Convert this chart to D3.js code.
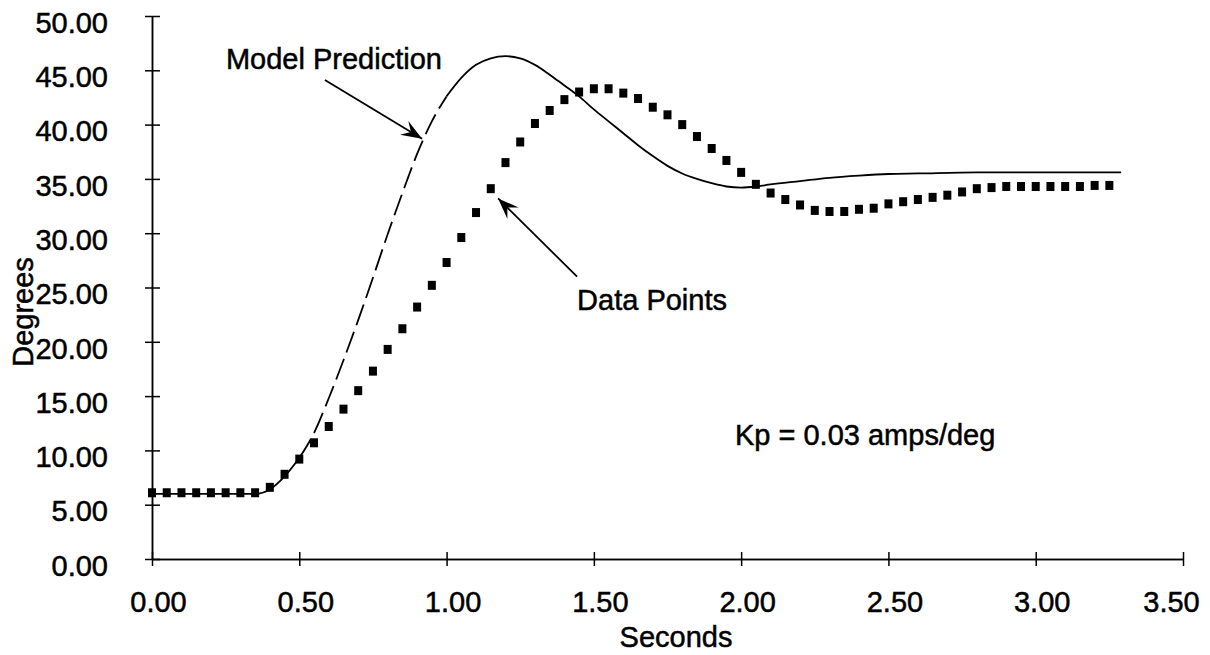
<head>
	<meta charset="utf-8">
	<title>Degrees vs Seconds</title>
	<script src="https://d3js.org/d3.v7.min.js"></script>
	<style>
		body { margin: 0; background: #fff; }
		text { font-family: "Liberation Sans", Arial, sans-serif; fill: #000; stroke: #000; stroke-width: 0.5px; }
	</style>
</head>
<body>
	<script type="text/javascript">
	// model prediction curve (seconds, degrees)
	var modelTime = [0, 0.05, 0.10, 0.15, 0.20, 0.25, 0.30, 0.35, 0.40, 0.45, 0.50, 0.55, 0.60, 0.65, 0.70, 0.75, 0.80, 0.85, 0.90, 0.95,
		1.00, 1.05, 1.10, 1.15, 1.20, 1.25, 1.30, 1.35, 1.40, 1.45, 1.50, 1.55, 1.60, 1.65, 1.70, 1.75, 1.80, 1.85, 1.90, 1.95,
		2.00, 2.05, 2.10, 2.20, 2.30, 2.40, 2.50, 2.60, 2.80, 3.00, 3.29];
	var modelDeg = [6.0, 6.0, 6.0, 6.0, 6.0, 6.0, 6.0, 6.0, 6.4, 7.6, 9.3, 11.6, 14.8, 18.3, 22.0, 25.9, 29.9, 33.7, 37.3, 40.3,
		42.6, 44.3, 45.5, 46.1, 46.3, 46.1, 45.5, 44.6, 43.6, 42.6, 41.4, 40.3, 39.2, 38.1, 37.1, 36.2, 35.5, 35.0, 34.6, 34.3,
		34.2, 34.3, 34.5, 34.8, 35.1, 35.3, 35.45, 35.5, 35.6, 35.6, 35.6];

	// measured data points, one every 0.05 s from 0
	var dataStep = 0.05;
	var dataDeg = [6.1, 6.1, 6.1, 6.1, 6.1, 6.1, 6.1, 6.1, 6.6, 7.8, 9.2, 10.7, 12.2, 13.8, 15.5, 17.3, 19.3, 21.2, 23.2, 25.2,
		27.3, 29.6, 31.9, 34.1, 36.5, 38.4, 40.1, 41.3, 42.3, 43.0, 43.3, 43.3, 42.9, 42.4, 41.6, 40.9, 40.0, 38.9, 37.8, 36.7,
		35.6, 34.5, 33.7, 33.1, 32.6, 32.1, 32.0, 32.0, 32.2, 32.3, 32.7, 32.9, 33.1, 33.3, 33.5, 33.8, 34.1, 34.2, 34.3, 34.3,
		34.3, 34.3, 34.3, 34.3, 34.4, 34.4];

	var xTicks = [0, 0.5, 1.0, 1.5, 2.0, 2.5, 3.0, 3.5];
	var yTicks = [0, 5, 10, 15, 20, 25, 30, 35, 40, 45, 50];

	// annotations in data units: [label t, label deg, arrow from t, from deg, arrow to t, to deg]
	var modelNote = ["Model Prediction", 0.251, 45.1, 0.587, 44.1, 0.917, 38.7];
	var dataNote = ["Data Points", 1.443, 22.9, 1.443, 26.0, 1.175, 33.2];
	var kpNote = ["Kp = 0.03 amps/deg", 1.979, 10.5];

	var w = 1210;
	var h = 655;

	var svg = d3.select("body")
		.append("svg")
		.attr("width", w)
		.attr("height", h);

	var x = d3.scaleLinear().domain([0, 3.5]).range([152, 1183]);
	var y = d3.scaleLinear().domain([0, 50]).range([559, 16]);

	// axes (ticks cross the axis line)
	var xAxis = svg.append("g")
		.attr("transform", "translate(0," + y(0) + ")")
		.call(d3.axisBottom(x).tickValues(xTicks).tickSizeInner(7).tickSizeOuter(0).tickPadding(25)
			.tickFormat(d3.format(".2f")));
	svg.append("g")
		.attr("transform", "translate(0," + y(0) + ")")
		.call(d3.axisTop(x).tickValues(xTicks).tickSizeInner(7).tickSizeOuter(0).tickFormat(""));

	var yAxis = svg.append("g")
		.attr("transform", "translate(" + x(0) + ",0)")
		.call(d3.axisLeft(y).tickValues(yTicks).tickSizeInner(7).tickSizeOuter(0).tickPadding(37)
			.tickFormat(d3.format(".2f")));
	svg.append("g")
		.attr("transform", "translate(" + x(0) + ",0)")
		.call(d3.axisRight(y).tickValues(yTicks).tickSizeInner(8).tickSizeOuter(0).tickFormat(""));

	svg.selectAll(".domain, .tick line")
		.attr("stroke", "#000")
		.attr("stroke-width", 1.5);
	svg.selectAll(".tick text")
		.attr("font-size", "29px")
		.attr("font-family", "Liberation Sans, Arial, sans-serif")
		.attr("fill", "#000");
	xAxis.selectAll(".tick text").attr("dx", function(d){ return d === 3.5 ? -12 : 6; });
	yAxis.selectAll(".tick text").attr("dy", "0.56em");

	svg.append("text")
		.text("Seconds")
		.attr("x", 676)
		.attr("y", 647)
		.attr("text-anchor", "middle")
		.attr("font-size", "29px");
	svg.append("text")
		.text("Degrees")
		.attr("transform", "translate(33,312) rotate(-90)")
		.attr("text-anchor", "middle")
		.attr("font-size", "29px");

	// model line: solid, dashed on the steep rise, then solid
	var model = modelTime.map(function(t, i){ return [t, modelDeg[i]]; });
	var line = d3.line()
		.x(function(d){ return x(d[0]); })
		.y(function(d){ return y(d[1]); })
		.curve(d3.curveMonotoneX);

	var parts = [
		{pts: model.filter(function(d){ return d[0] <= 0.50; }), dash: null},
		{pts: model.filter(function(d){ return d[0] >= 0.50 && d[0] <= 1.00; }), dash: "22,7"},
		{pts: model.filter(function(d){ return d[0] >= 1.00; }), dash: null}
	];
	svg.selectAll("path.model")
		.data(parts)
		.enter()
		.append("path")
		.attr("class", "model")
		.attr("d", function(d){ return line(d.pts); })
		.attr("fill", "none")
		.attr("stroke", "#000")
		.attr("stroke-width", 1.8)
		.attr("stroke-dasharray", function(d){ return d.dash; });

	// data squares
	svg.selectAll("rect.pt")
		.data(dataDeg)
		.enter()
		.append("rect")
		.attr("class", "pt")
		.attr("x", function(d, i){ return x(i * dataStep) - 4; })
		.attr("y", function(d){ return y(d) - 4.5; })
		.attr("width", 8)
		.attr("height", 9)
		.attr("fill", "#000");

	// arrows
	svg.append("defs").append("marker")
		.attr("id", "head")
		.attr("viewBox", "-22 -10 24 20")
		.attr("refX", 0)
		.attr("refY", 0)
		.attr("markerWidth", 24)
		.attr("markerHeight", 20)
		.attr("markerUnits", "userSpaceOnUse")
		.attr("orient", "auto")
		.append("path")
		.attr("d", "M0,0 L-21,-8 L-13,0 L-21,8 Z")
		.attr("fill", "#000");

	[modelNote, dataNote].forEach(function(n){
		svg.append("text")
			.text(n[0])
			.attr("x", x(n[1]))
			.attr("y", y(n[2]))
			.attr("font-size", "29px");
		svg.append("line")
			.attr("x1", x(n[3]))
			.attr("y1", y(n[4]))
			.attr("x2", x(n[5]))
			.attr("y2", y(n[6]))
			.attr("stroke", "#000")
			.attr("stroke-width", 1.8)
			.attr("marker-end", "url(#head)");
	});

	svg.append("text")
		.text(kpNote[0])
		.attr("x", x(kpNote[1]))
		.attr("y", y(kpNote[2]))
		.attr("font-size", "29px");
	</script>
</body>
